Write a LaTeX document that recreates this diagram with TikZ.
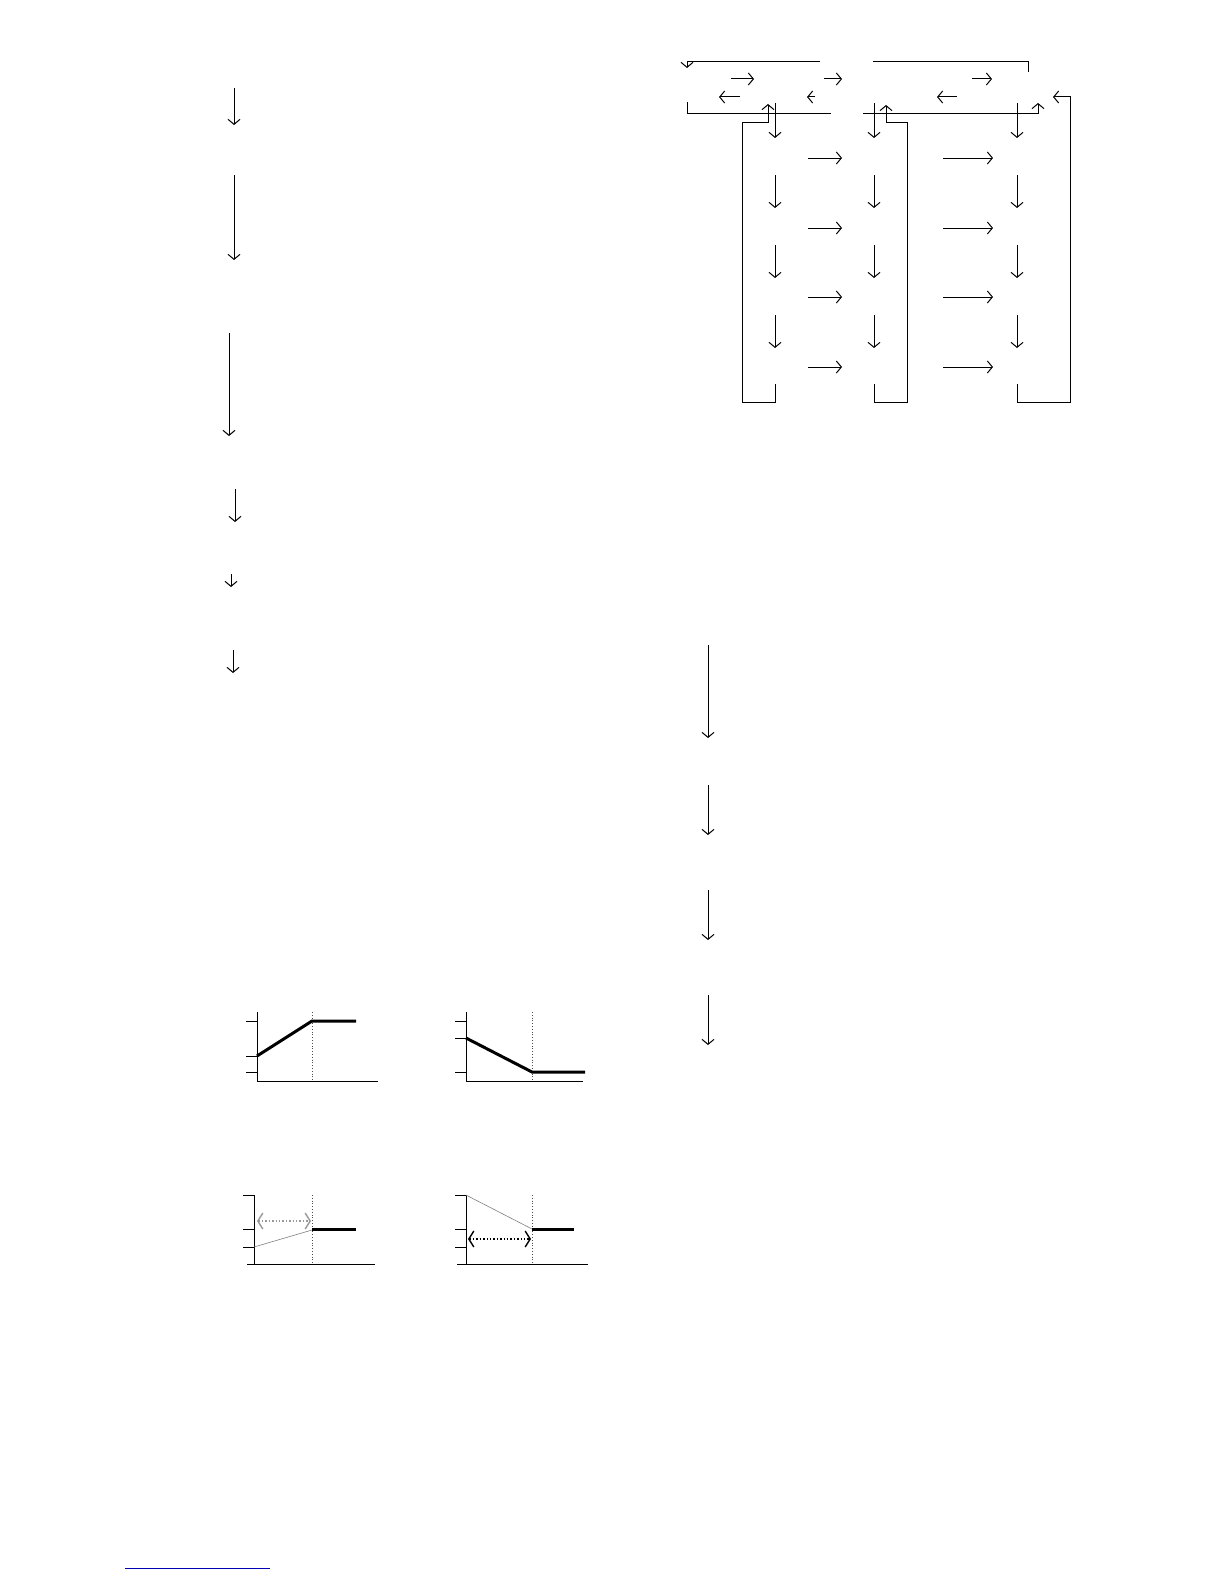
\documentclass[tikz,border=0pt]{standalone}
\usepackage{xcolor}
\usetikzlibrary{arrows.meta}

\tikzset{
  wire/.style={line width=0.5pt},
  flow/.style={wire, -{Straight Barb[length=2.5pt,width=6pt]}},
  span/.style={densely dotted, line width=0.7pt,
    {Straight Barb[length=2.5pt,width=8pt]}-{Straight Barb[length=2.5pt,width=8pt]}},
  guide/.style={densely dotted, line width=0.4pt, black!70},
  curve/.style={line width=1.5pt},
  ramp/.style={line width=0.3pt, black!50},
}

\begin{document}
\begin{tikzpicture}[x=0.5pt, y=-0.5pt]
  \useasboundingbox[fill=white] (0,0) rectangle (1224,1584);

  % left column
  \foreach \x/\a/\b in {234/88/125, 234/175/260, 229/333/436, 235/489/522, 231/574/587, 233/650/673}
    \draw[flow] (\x,\a) -- (\x,\b);

  % right column
  \foreach \a/\b in {645/738, 785/835, 890/940, 995/1045}
    \draw[flow] (708,\a) -- (708,\b);

  % top frame
  \draw[flow] (820,62) -| (687,68);
  \draw[wire] (873,62) -| (1028,72);
  \foreach \a/\b in {731/754, 824/842, 972/992}
    \draw[flow] (\a,79) -- (\b,79);
  \foreach \a/\b in {740/719, 815/807, 957/937}
    \draw[flow] (\a,97) -- (\b,97);
  \draw[wire] (687,102) |- (831,114);
  \draw[flow] (863,114) -| (1038,103);

  % columns
  \foreach \c in {775,874,1017} {
    \draw[flow] (\c,103) -- (\c,138);
    \foreach \y in {175,245,315}
      \draw[flow] (\c,\y) -- (\c,\y+33);
  }
  \foreach \y in {158,228,297,367} {
    \draw[flow] (808,\y) -- (842,\y);
    \draw[flow] (943,\y) -- (993,\y);
  }

  % return loops
  \draw[flow] (775,384) |- (742,402) |- (768,123) -- (768,104);
  \draw[flow] (874,384) |- (907,402) |- (886,123) -- (886,105);
  \draw[flow] (1017,384) |- (1070,402) |- (1053,97);

  % graph 1
  \draw[wire] (257,1012) -- (257,1081) -- (378,1081);
  \foreach \y in {1021,1056,1072}
    \draw[wire] (246,\y) -- (257,\y);
  \draw[guide] (312,1012) -- (312,1081);
  \draw[curve] (257,1056) -- (312,1021) -- (356,1021);

  % graph 2
  \draw[wire] (466,1012) -- (466,1081) -- (583,1081);
  \foreach \y in {1021,1038,1072}
    \draw[wire] (455,\y) -- (466,\y);
  \draw[guide] (532,1012) -- (532,1081);
  \draw[curve] (466,1038) -- (532,1072) -- (585,1072);

  % graph 3
  \draw[wire] (254,1195) -- (254,1264);
  \draw[wire] (247,1264) -- (375,1264);
  \foreach \y in {1195,1229,1247}
    \draw[wire] (243,\y) -- (254,\y);
  \draw[guide] (312,1195) -- (312,1264);
  \draw[ramp] (254,1247) -- (312,1230);
  \draw[curve] (312,1229) -- (356,1229);
  \draw[span, black!40] (257,1221) -- (311,1221);

  % graph 4
  \draw[wire] (466,1195) -- (466,1264);
  \draw[wire] (457,1264) -- (588,1264);
  \foreach \y in {1195,1229,1247}
    \draw[wire] (455,\y) -- (466,\y);
  \draw[guide] (532,1195) -- (532,1264);
  \draw[ramp] (466,1195) -- (532,1229);
  \draw[curve] (532,1229) -- (574,1229);
  \draw[span] (468,1239) -- (531,1239);

  % footnote rule
  \draw[blue!70!black, line width=0.4pt] (125,1568) -- (270,1568);
\end{tikzpicture}
\end{document}
